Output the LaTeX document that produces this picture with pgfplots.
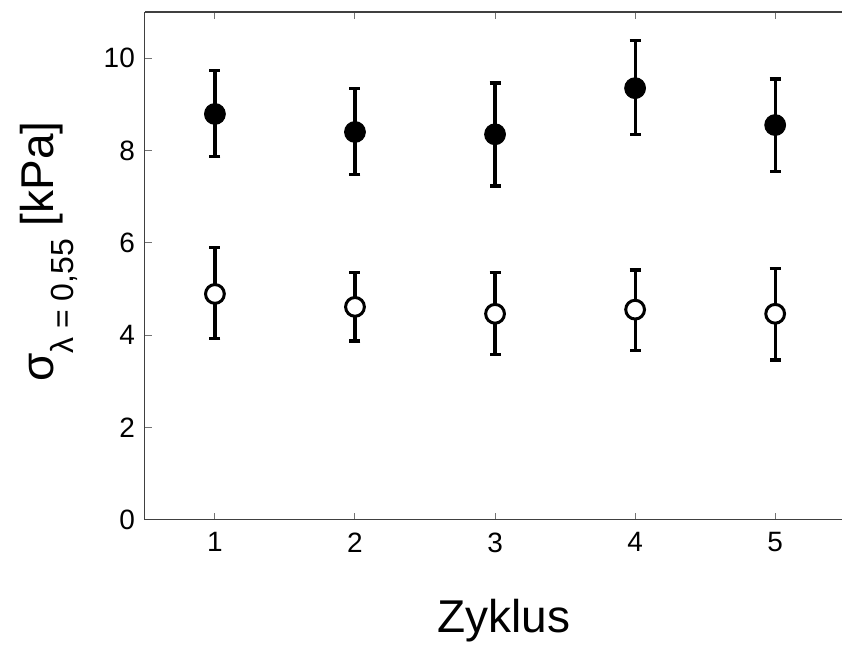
\documentclass[border=0pt]{standalone}
\usepackage{pgfplots}
\pgfplotsset{compat=1.18}
\usepackage{fontspec}
\setmainfont{Liberation Sans}
\begin{document}
\begin{tikzpicture}
\begin{axis}[
  scale only axis,
  width=349pt, height=254pt,
  xmin=0.5, xmax=5.48,
  ymin=0, ymax=11,
  axis x line=box, axis y line=left,
  x axis line style={-, draw=black!75, line width=0.6pt},
  y axis line style={-, draw=black!75, line width=0.6pt},
  xtick={1,2,3,4,5},
  ytick={0,2,4,6,8,10},
  tick align=inside,
  major tick length=3.5pt,
  tick style={draw=black!55, line width=0.5pt},
  /pgf/number format/assume math mode=true,
  ticklabel style={font=\fontsize{14pt}{16pt}\selectfont},
  xticklabel style={yshift=-3pt},
  yticklabel style={xshift=-1.5pt},
  xlabel={Zyklus},
  xlabel style={font=\fontsize{23pt}{26pt}\selectfont, yshift=-16.5pt, xshift=5pt},
  every axis y label/.style={at={(axis description cs:-0.1304,0.528)}, rotate=90, anchor=base},
  ylabel={σ\raisebox{-10pt}{\fontsize{16pt}{18pt}\selectfont λ = 0,55} [kPa]},
  ylabel style={font=\fontsize{23pt}{26pt}\selectfont},
  clip=false,
]
\coordinate (bl) at (rel axis cs:0,0);
\coordinate (tl) at (rel axis cs:0,1);
\addplot[black, only marks, mark=*, mark size=5.2pt,
  mark options={fill=black, draw=black, line width=0.5pt},
  error bars/.cd, y dir=both, y explicit,
  error bar style={line width=1.6pt, black},
  error mark options={rotate=90, mark size=2.75pt, line width=1.6pt, black}]
coordinates {
 (1,8.79) +=(0,0.95) -=(0,0.93)
 (2,8.40) +=(0,0.95) -=(0,0.93)
 (3,8.35) +=(0,1.11) -=(0,1.12)
 (4,9.35) +=(0,1.04) -=(0,1.00)
 (5,8.55) +=(0,1.00) -=(0,1.00)
};
\addplot[black, only marks, mark=*, mark size=4.7pt,
  mark options={fill=white, draw=black, line width=1.5pt},
  error bars/.cd, y dir=both, y explicit,
  error bar style={line width=1.6pt, black},
  error mark options={rotate=90, mark size=2.75pt, line width=1.6pt, black}]
coordinates {
 (1,4.89) +=(0,1.00) -=(0,0.97)
 (2,4.61) +=(0,0.74) -=(0,0.74)
 (3,4.46) +=(0,0.89) -=(0,0.89)
 (4,4.55) +=(0,0.86) -=(0,0.89)
 (5,4.46) +=(0,0.99) -=(0,1.00)
};
\end{axis}
\path ([xshift=-72.5pt]bl);
\path ([yshift=6pt]tl);
\end{tikzpicture}
\end{document}
